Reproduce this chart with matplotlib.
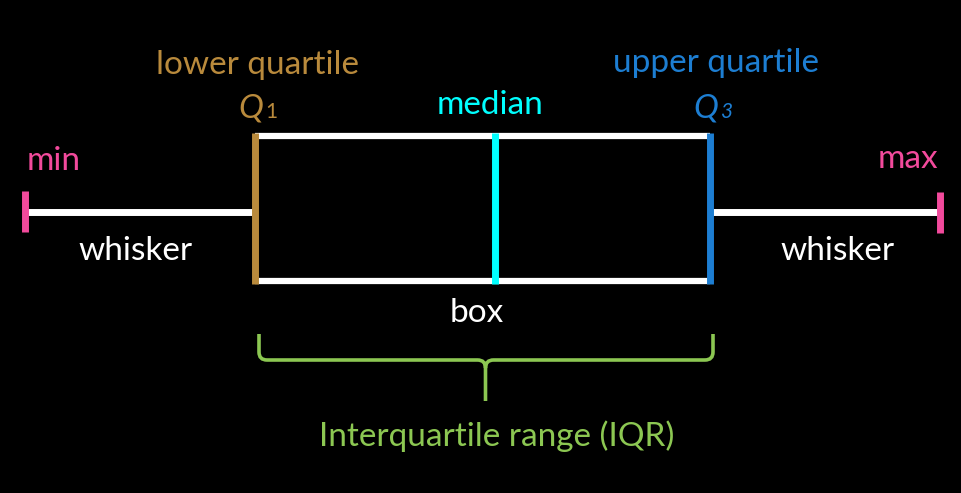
import matplotlib.pyplot as plt
from matplotlib.path import Path
from matplotlib.patches import PathPatch

# five-number summary, in the picture's horizontal units
stats = [25, 255, 495, 710, 940]   # min, Q1, median, Q3, max
labels = ["min", "lower quartile", "median", "upper quartile", "max"]

PINK = "#F24A9C"
GOLD = "#B98A3C"
CYAN = "#00FFFF"
BLUE = "#1D7ED2"
GREEN = "#8CC752"
WHITE = "#FFFFFF"

plt.rcParams['font.family'] = ['Lato', 'DejaVu Sans']

fig = plt.figure(figsize=(9.61, 4.93), dpi=100, facecolor="black")
ax = fig.add_axes([0, 0, 1, 1])
ax.set_facecolor("black")
ax.set_xlim(0, 961)
ax.set_ylim(493, 0)
ax.axis("off")

vmin, q1, med, q3, vmax = stats
ymid = 212
ytop, ybot = 136, 281

# whiskers
ax.plot([vmin, q1], [ymid, ymid], color=WHITE, lw=5, solid_capstyle="butt")
ax.plot([q3, vmax], [ymid, ymid], color=WHITE, lw=5, solid_capstyle="butt")
# box edges
ax.plot([q1, q3], [ytop, ytop], color=WHITE, lw=4.5, solid_capstyle="butt")
ax.plot([q1, q3], [ybot, ybot], color=WHITE, lw=4.5, solid_capstyle="butt")
# quartile / median lines
ax.plot([q1, q1], [133, 284], color=GOLD, lw=5, solid_capstyle="butt")
ax.plot([med, med], [133, 284], color=CYAN, lw=5, solid_capstyle="butt")
ax.plot([q3, q3], [133, 284], color=BLUE, lw=5, solid_capstyle="butt")
# min / max caps
ax.plot([vmin, vmin], [191, 232], color=PINK, lw=5, solid_capstyle="butt")
ax.plot([vmax, vmax], [192, 233], color=PINK, lw=5, solid_capstyle="butt")

fs = 24
ax.text(54, 161, labels[0], color=PINK, fontsize=fs, ha="center", va="center")
ax.text(908, 159, labels[4], color=PINK, fontsize=fs, ha="center", va="center")
ax.text(258, 65, labels[1], color=GOLD, fontsize=fs, ha="center", va="center")
ax.text(490, 105, labels[2], color=CYAN, fontsize=fs, ha="center", va="center")
ax.text(716, 63, labels[3], color=BLUE, fontsize=fs, ha="center", va="center")
ax.text(263, 108, "Q", color=GOLD, fontsize=fs, ha="right", va="center",
        fontstyle="italic")
ax.text(265, 112, "1", color=GOLD, fontsize=15, ha="left", va="center")
ax.text(718, 108, "Q", color=BLUE, fontsize=fs, ha="right", va="center",
        fontstyle="italic")
ax.text(720, 112, "3", color=BLUE, fontsize=15, ha="left", va="center",
        fontstyle="italic")
ax.text(136, 251, "whisker", color=WHITE, fontsize=fs, ha="center", va="center")
ax.text(838, 251, "whisker", color=WHITE, fontsize=fs, ha="center", va="center")
ax.text(477, 313, "box", color=WHITE, fontsize=fs, ha="center", va="center")
ax.text(497, 436, "Interquartile range (IQR)", color=GREEN, fontsize=fs,
        ha="center", va="center")

# curly brace under the box
xl, xr, xc = q1 + 4, q3 + 3, (q1 + q3) / 2 + 3
yt, yh, yb = 334, 360, 401
verts = [
    (xl, yt), (xl, yh - 8),
    (xl, yh), (xl + 8, yh),
    (xc - 8, yh),
    (xc, yh), (xc, yh + 8),
    (xc, yb),
    (xc, yh + 8),
    (xc, yh), (xc + 8, yh),
    (xr - 8, yh),
    (xr, yh), (xr, yh - 8),
    (xr, yt),
]
codes = [Path.MOVETO, Path.LINETO,
         Path.CURVE3, Path.CURVE3,
         Path.LINETO,
         Path.CURVE3, Path.CURVE3,
         Path.LINETO,
         Path.MOVETO,
         Path.CURVE3, Path.CURVE3,
         Path.LINETO,
         Path.CURVE3, Path.CURVE3,
         Path.LINETO]
ax.add_patch(PathPatch(Path(verts, codes), fill=False, edgecolor=GREEN, lw=2.6))

fig.savefig("out.png", dpi=100, facecolor="black")
